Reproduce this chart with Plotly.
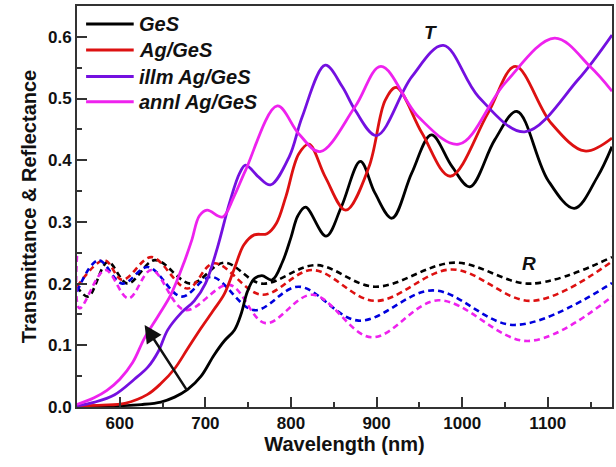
import plotly.graph_objects as go

# ---------------- data ----------------
names = ["GeS", "Ag/GeS", "illm Ag/GeS", "annl Ag/GeS"]
t_colors = ["#000000", "#dd1111", "#7410e0", "#ee22ee"]
r_colors = ["#000000", "#dd1111", "#0000dd", "#ee22ee"]

# Transmittance
ges_t_x = [550, 600, 625, 648, 664, 679, 695, 710, 722, 734, 742, 749, 757, 766, 778, 790, 800, 808,
           817, 841, 859, 881, 898, 918, 941, 964, 988, 1009, 1038, 1064, 1100, 1131, 1158, 1175]
ges_t_y = [0.000, 0.002, 0.004, 0.008, 0.016, 0.028, 0.050, 0.084, 0.107, 0.125, 0.152, 0.187, 0.208,
           0.213, 0.206, 0.235, 0.275, 0.310, 0.324, 0.277, 0.325, 0.398, 0.347, 0.306, 0.379, 0.441,
           0.390, 0.357, 0.433, 0.479, 0.368, 0.322, 0.373, 0.422]

ag_t_x = [550, 580, 606, 632, 648, 664, 679, 695, 710, 722, 734, 745, 757, 772, 783, 794, 809, 821, 840,
          864, 891, 910, 923, 953, 986, 1030, 1062, 1104, 1143, 1175]
ag_t_y = [0.002, 0.003, 0.006, 0.020, 0.038, 0.062, 0.094, 0.128, 0.158, 0.183, 0.225, 0.263, 0.279, 0.281,
          0.298, 0.341, 0.410, 0.426, 0.373, 0.319, 0.389, 0.497, 0.518, 0.444, 0.374, 0.476, 0.552, 0.460,
          0.415, 0.436]

illm_t_x = [550, 571, 594, 617, 633, 645, 656, 672, 687, 700, 714, 728, 740, 747, 762, 776, 798, 813, 840,
            860, 875, 900, 941, 978, 1019, 1073, 1135, 1175]
illm_t_y = [0.002, 0.008, 0.020, 0.045, 0.065, 0.090, 0.125, 0.153, 0.172, 0.200, 0.258, 0.330, 0.379,
            0.392, 0.373, 0.360, 0.406, 0.470, 0.554, 0.519, 0.481, 0.440, 0.535, 0.586, 0.503, 0.446,
            0.530, 0.603]

annl_t_x = [550, 570, 585, 600, 615, 629, 645, 660, 676, 684, 693, 702, 720, 733, 747, 784, 809, 834, 875,
            905, 949, 996, 1050, 1108, 1150, 1175]
annl_t_y = [0.004, 0.015, 0.027, 0.045, 0.072, 0.112, 0.148, 0.183, 0.238, 0.270, 0.310, 0.319, 0.308,
            0.340, 0.384, 0.488, 0.443, 0.414, 0.487, 0.552, 0.470, 0.426, 0.525, 0.598, 0.551, 0.512]

# Reflectance
ges_r_x = [550, 563, 586, 609, 641, 683, 722, 766, 829, 898, 991, 1080, 1175]
ges_r_y = [0.195, 0.179, 0.235, 0.200, 0.238, 0.200, 0.234, 0.200, 0.230, 0.195, 0.234, 0.200, 0.243]

ag_r_x = [550, 582, 603, 637, 679, 710, 766, 825, 898, 988, 1081, 1175]
ag_r_y = [0.195, 0.238, 0.206, 0.243, 0.192, 0.233, 0.182, 0.222, 0.172, 0.223, 0.172, 0.236]

illm_r_x = [550, 575, 603, 633, 672, 707, 757, 809, 879, 966, 1061, 1175]
illm_r_y = [0.187, 0.238, 0.200, 0.227, 0.179, 0.211, 0.157, 0.195, 0.140, 0.189, 0.133, 0.201]

annl_r_x = [550, 553, 583, 610, 637, 676, 728, 770, 825, 894, 972, 1077, 1175]
annl_r_y = [0.245, 0.160, 0.222, 0.176, 0.222, 0.157, 0.198, 0.136, 0.182, 0.113, 0.173, 0.107, 0.179]

x_ticks = [600, 700, 800, 900, 1000, 1100]
y_ticks = [0.0, 0.1, 0.2, 0.3, 0.4, 0.5, 0.6]

t_series = [(ges_t_x, ges_t_y), (ag_t_x, ag_t_y), (illm_t_x, illm_t_y), (annl_t_x, annl_t_y)]
r_series = [(ges_r_x, ges_r_y), (ag_r_x, ag_r_y), (illm_r_x, illm_r_y), (annl_r_x, annl_r_y)]

FONT = "Liberation Sans, Arial, sans-serif"

fig = go.Figure()

for (xs, ys), c, n in zip(r_series, r_colors, names):
    fig.add_trace(go.Scatter(x=xs, y=ys, mode="lines", name=n + " R", showlegend=False,
                             line=dict(color=c, width=2.6, dash="6px,4px", shape="spline", smoothing=1.0)))

for (xs, ys), c, n in zip(t_series, t_colors, names):
    fig.add_trace(go.Scatter(x=xs, y=ys, mode="lines", name=n, showlegend=False,
                             line=dict(color=c, width=2.8, shape="spline", smoothing=1.0)))

# manual legend (paper coordinates)
leg_rows = [0.955, 0.890, 0.824, 0.761]
for yrow, c, n in zip(leg_rows, t_colors, names):
    fig.add_shape(type="line", xref="paper", yref="paper", x0=0.017, x1=0.106, y0=yrow, y1=yrow,
                  line=dict(color=c, width=3))
    fig.add_annotation(xref="paper", yref="paper", x=0.112, y=yrow, text=n, showarrow=False,
                       xanchor="left", yanchor="middle",
                       font=dict(family=FONT, size=20, color="#111", weight="bold", style="italic"))

# labels T and R
fig.add_annotation(x=963, y=0.607, text="T", showarrow=False,
                   font=dict(family=FONT, size=19, color="#111", weight="bold", style="italic"))
fig.add_annotation(x=1078, y=0.232, text="R", showarrow=False,
                   font=dict(family=FONT, size=19, color="#111", weight="bold", style="italic"))

# arrow
fig.add_annotation(x=629, y=0.133, ax=679.5, ay=0.025, axref="x", ayref="y", xref="x", yref="y",
                   text="", showarrow=True, arrowhead=2, arrowsize=1.4, arrowwidth=2.5, arrowcolor="#111")

axis_common = dict(showline=True, linewidth=2, linecolor="#333", mirror=True, showgrid=False,
                   zeroline=False, ticks="inside", ticklen=10, tickwidth=2, tickcolor="#333",
                   tickfont=dict(family=FONT, size=17, color="#111", weight="bold"))

fig.update_xaxes(range=[550, 1175], tickvals=x_ticks,
                 minor=dict(dtick=50, tick0=550, ticks="inside", ticklen=5, tickwidth=2, tickcolor="#333"),
                 title=dict(text="Wavelength (nm)", standoff=4,
                            font=dict(family=FONT, size=20, color="#111", weight="bold")),
                 **axis_common)
fig.update_yaxes(range=[0, 0.65], tickvals=y_ticks, tickformat=".1f",
                 minor=dict(dtick=0.05, tick0=0, ticks="inside", ticklen=5, tickwidth=2, tickcolor="#333"),
                 title=dict(text="Transmittance & Reflectance", standoff=6,
                            font=dict(family=FONT, size=20, color="#111", weight="bold")),
                 **axis_common)

fig.update_layout(width=616, height=467, margin=dict(l=77, r=2, t=6, b=60),
                  plot_bgcolor="white", paper_bgcolor="white", showlegend=False)

fig.write_html("out.html")
